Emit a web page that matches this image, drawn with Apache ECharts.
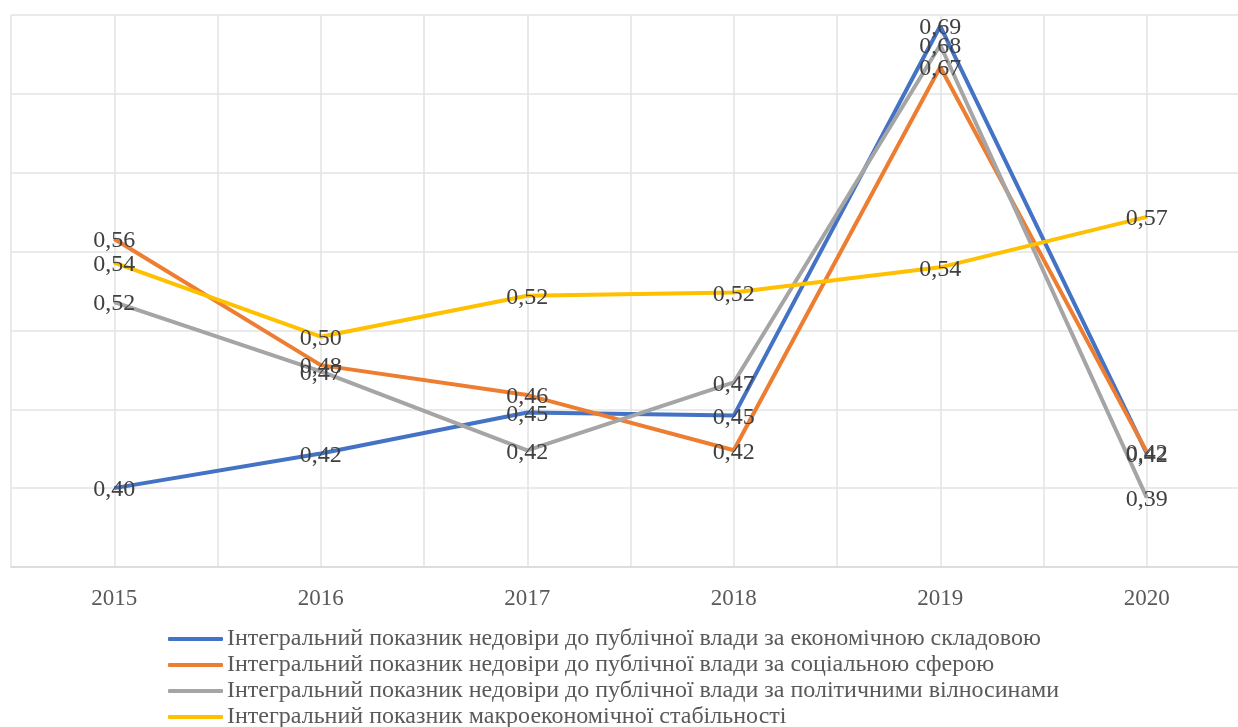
<!DOCTYPE html>
<html>
<head>
    <meta charset="utf-8">
    <title>Integral indicators</title>
    <script src="https://cdn.jsdelivr.net/npm/echarts@6/dist/echarts.min.js"></script>
    <style>
        html, body { margin: 0; padding: 0; background: #fff; overflow: hidden; }
    </style>
</head>
<body>
    <!-- the original plot runs a little past the right and bottom edges of the picture -->
    <div id="main" style="width: 1250px;height:740px;"></div>
    <script type="text/javascript">
    var myChart = echarts.init(document.getElementById('main'));

    var years = ['2015', '2016', '2017', '2018', '2019', '2020'];
    var names = [
        'Інтегральний показник недовіри до публічної влади за економічною складовою',
        'Інтегральний показник недовіри до публічної влади за соціальною сферою',
        'Інтегральний показник недовіри до публічної влади за політичними вілносинами',
        'Інтегральний показник макроекономічної стабільності'
    ];
    var economic  = [0.400, 0.422, 0.448, 0.446, 0.693, 0.422];
    var social    = [0.558, 0.478, 0.459, 0.424, 0.667, 0.423];
    var political = [0.518, 0.474, 0.424, 0.467, 0.681, 0.394];
    var macro     = [0.543, 0.496, 0.522, 0.524, 0.540, 0.572];
    var colors = ['#4472C4', '#ED7D31', '#A5A5A5', '#FFC000'];

    var serif = '"Liberation Serif", "Times New Roman", serif';

    function makeSeries(name, values, color) {
        return {
            name: name,
            type: 'line',
            xAxisIndex: 0,
            data: values,
            symbol: 'circle',
            symbolSize: 1,
            lineStyle: { width: 4, color: color },
            itemStyle: { color: color },
            label: {
                show: true,
                position: 'inside',
                offset: [0, 2],
                fontFamily: serif,
                fontSize: 24,
                color: '#404040',
                formatter: function (p) {
                    return p.value.toFixed(2).replace('.', ',');
                }
            },
            emphasis: { disabled: true }
        };
    }

    option = {
        animation: false,
        color: colors,
        grid: { left: 11, right: 0, top: 15, bottom: 173 },
        legend: {
            orient: 'vertical',
            left: 163,
            top: 622,
            icon: 'roundRect',
            itemWidth: 55,
            itemHeight: 4,
            itemGap: 2,
            data: names,
            textStyle: { fontFamily: serif, fontSize: 24, lineHeight: 24, color: '#595959', padding: [0, 0, 0, -1] }
        },
        xAxis: [{
            type: 'category',
            data: years,
            boundaryGap: true,
            axisLine: { lineStyle: { color: '#D9D9D9', width: 1.5 } },
            axisTick: { show: false },
            splitLine: { show: false },
            axisLabel: { fontFamily: serif, fontSize: 23, color: '#595959', margin: 20 }
        }, {
            // half-step lines: vertical grid at every category centre and boundary
            type: 'value',
            min: -0.5,
            max: 5.5,
            interval: 0.5,
            position: 'bottom',
            axisLine: { show: false },
            axisTick: { show: false },
            axisLabel: { show: false },
            splitLine: { show: true, lineStyle: { color: '#E3E3E3', width: 1.5 } }
        }],
        yAxis: {
            type: 'value',
            min: 0.35,
            max: 0.70,
            interval: 0.05,
            axisLine: { show: false },
            axisTick: { show: false },
            axisLabel: { show: false },
            splitLine: { lineStyle: { color: '#E3E3E3', width: 1.5 } }
        },
        series: [
            makeSeries(names[0], economic, colors[0]),
            makeSeries(names[1], social, colors[1]),
            makeSeries(names[2], political, colors[2]),
            makeSeries(names[3], macro, colors[3])
        ]
    };

    myChart.setOption(option);
    </script>
</body>
</html>
